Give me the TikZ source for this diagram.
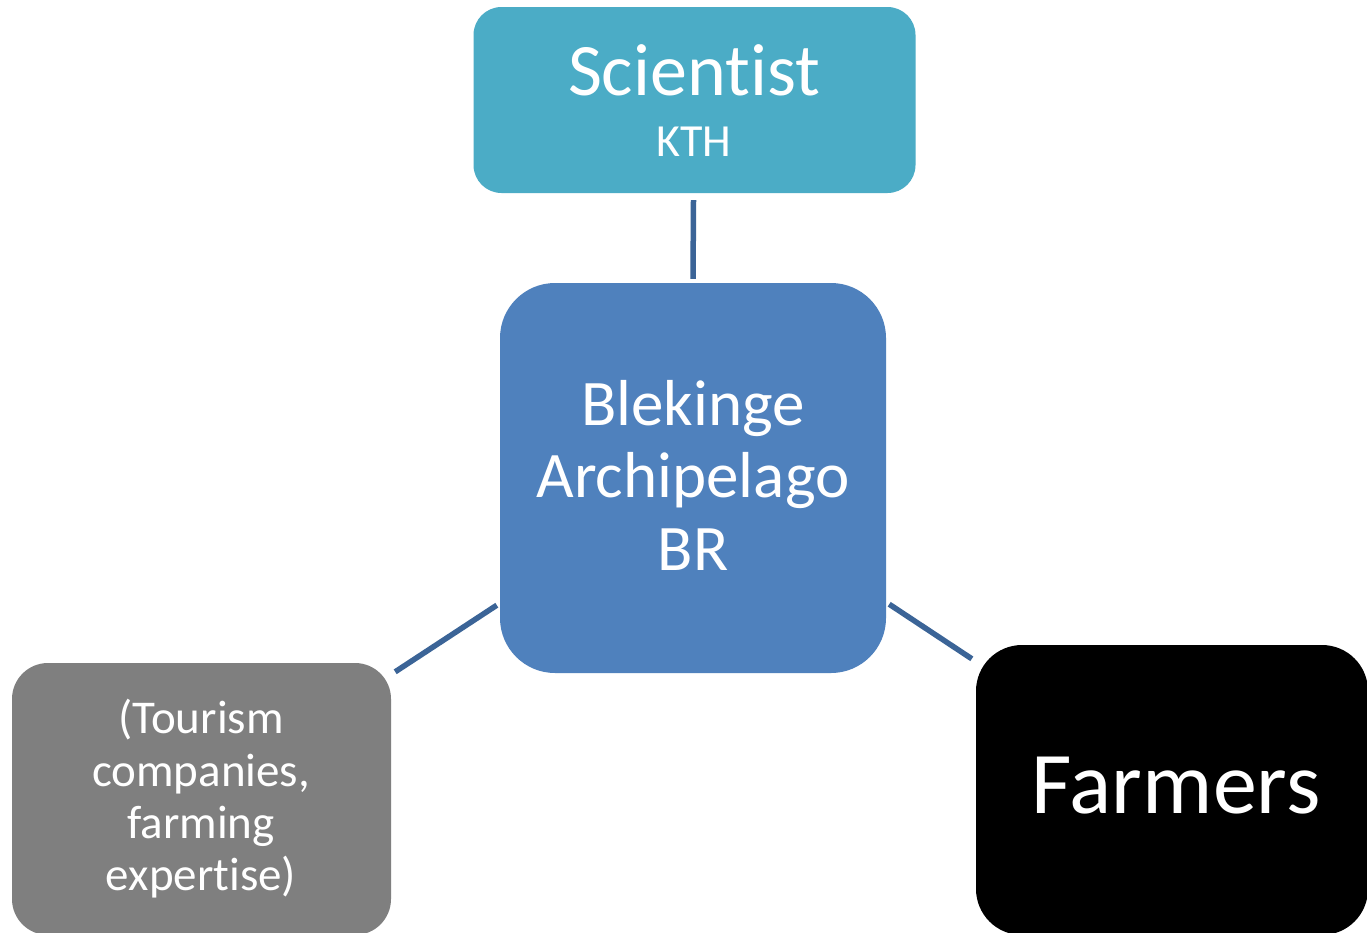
\documentclass[tikz,border=0pt]{standalone}
\usepackage{fontspec}
\setmainfont[Ligatures={NoCommon}]{Carlito}
\usetikzlibrary{calc}
\definecolor{scic}{HTML}{4BACC6}
\definecolor{cenc}{HTML}{4F81BD}
\definecolor{grayc}{HTML}{7F7F7F}
\definecolor{connc}{HTML}{3B6497}
\begin{document}
\begin{tikzpicture}[x=1pt,y=-1pt,
  box/.style={rounded corners=#1, inner sep=0pt, draw=none},
  txt/.style={anchor=base, text=white, inner sep=0pt},
  conn/.style={draw=connc, line width=5.5pt}]
\useasboundingbox (0,0) rectangle (1367,932);
\fill[white] (0,0) rectangle (1367,932);
% boxes
\node[box=28pt, fill=scic, minimum width=442pt, minimum height=186pt] (sci) at (694.5,100) {};
\node[box=55pt, fill=cenc, minimum width=386pt, minimum height=390pt] (cen) at (693,478) {};
\node[box=36pt, fill=grayc, minimum width=379pt, minimum height=272pt] (tour) at (201.5,799) {};
\node[box=46pt, fill=black, minimum width=392pt, minimum height=290pt] (farm) at (1172,790) {};
% texts
\node[txt, font=\fontsize{74}{80}\selectfont] (scit) at (694,95) {Scientist};
\node[txt, font=\fontsize{46}{50}\selectfont] (ktht) at (694,156) {KTH};
\node[txt, font=\fontsize{65}{72}\selectfont] (cen1) at (693,425) {Blekinge};
\node[txt, font=\fontsize{65}{72}\selectfont] (cen2) at (693,497) {Archipelago};
\node[txt, font=\fontsize{65}{72}\selectfont] (cen3) at (693,570) {BR};
\node[txt, font=\fontsize{47}{52}\selectfont] (t1) at (201,733) {(Tourism};
\node[txt, font=\fontsize{47}{52}\selectfont] (t2) at (201,786) {companies,};
\node[txt, font=\fontsize{47}{52}\selectfont] (t3) at (201,838) {farming};
\node[txt, font=\fontsize{47}{52}\selectfont] (t4) at (201,890) {expertise)};
\node[txt, font=\fontsize{88}{96}\selectfont] (farmt) at (1176,813) {Farmers};
% connectors
\coordinate (a1) at ($(sci.south)+(-1,7)$);
\coordinate (a2) at ($(cen.north)+(0,-4)$);
\draw[conn] (a1) -- (a2);
\coordinate (b1) at ($(tour.north east)+(4,9)$);
\coordinate (b2) at ($(cen.south west)+(-3,-68)$);
\draw[conn] (b1) -- (b2);
\coordinate (c1) at ($(cen.south east)+(3,-69)$);
\coordinate (c2) at ($(farm.north west)+(-4,14)$);
\draw[conn] (c1) -- (c2);
\end{tikzpicture}
\end{document}
